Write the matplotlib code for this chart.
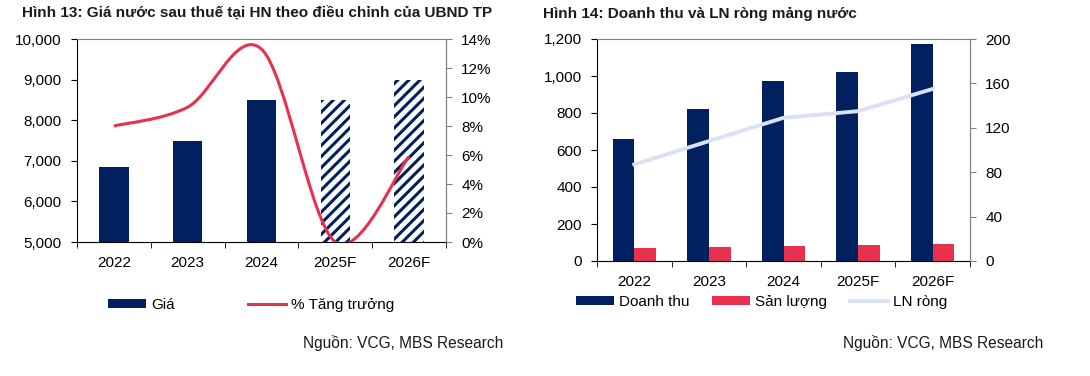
import matplotlib
matplotlib.use("Agg")
import matplotlib.pyplot as plt
from matplotlib.path import Path
from matplotlib.patches import PathPatch, Patch
from matplotlib.lines import Line2D
import numpy as np

plt.rcParams['font.family'] = ['Liberation Sans', 'DejaVu Sans']
plt.rcParams['hatch.linewidth'] = 2.2

# ---------------- data ----------------
years = ["2022", "2023", "2024", "2025F", "2026F"]
gia = [6850, 7500, 8500, 8500, 9000]
gia_forecast = [False, False, False, True, True]
tang_truong = [8.0, 9.3, 13.3, 0.0, 5.9]

doanh_thu = [658, 820, 975, 1023, 1172]
san_luong = [70, 77, 81, 85, 92]
ln_rong = [87, 108, 129, 135, 155]

left_yticks = [5000, 6000, 7000, 8000, 9000, 10000]
left_y2ticks = [0, 2, 4, 6, 8, 10, 12, 14]
right_yticks = [0, 200, 400, 600, 800, 1000, 1200]
right_y2ticks = [0, 40, 80, 120, 160, 200]

NAVY = "#002060"
RED = "#E8304F"
LIGHT = "#D9E1F2"
GREY = "#808080"
FS = 11
TFS = 11

fig = plt.figure(figsize=(10.9, 3.76), dpi=100)
W, H = 1090, 376


def ax_rect(x0, x1, ytop, ybot):
    return [x0 / W, (H - ybot) / H, (x1 - x0) / W, (ybot - ytop) / H]


def style_axes(ax, ax2):
    for s in ["top", "right"]:
        ax.spines[s].set_color(GREY)
    ax.spines["left"].set_color("black")
    ax.spines["bottom"].set_color("black")
    for s in ["top", "left", "bottom"]:
        ax2.spines[s].set_visible(False)
    ax2.spines["right"].set_color(GREY)
    ax.tick_params(axis="y", direction="out", length=4, pad=7, labelsize=FS, colors="black")
    ax.tick_params(axis="x", which="major", length=0, pad=10, labelsize=FS)
    ax.tick_params(axis="x", which="minor", direction="out", length=4)
    ax2.tick_params(axis="y", direction="out", length=4, pad=7, labelsize=FS, colors="black", color=GREY)


def smooth_path(xs, ys):
    # Bezier (Catmull-Rom tangents) through the data points, as Excel smooth lines
    pts = np.column_stack([xs, ys]).astype(float)
    n = len(pts)
    verts = [pts[0]]
    codes = [Path.MOVETO]
    for i in range(n - 1):
        p0 = pts[i - 1] if i > 0 else pts[i]
        p1 = pts[i]
        p2 = pts[i + 1]
        p3 = pts[i + 2] if i + 2 < n else pts[i + 1]
        c1 = p1 + (p2 - p0) / 6.0
        c2 = p2 - (p3 - p1) / 6.0
        verts += [c1, c2, p2]
        codes += [Path.CURVE4] * 3
    return Path(verts, codes)


# ---------------- left chart ----------------
x = np.arange(len(years))
axL = fig.add_axes(ax_rect(77, 446, 39, 242))
axL2 = axL.twinx()
for xi, v, fc in zip(x, gia, gia_forecast):
    if fc:
        axL.bar(xi, v - 5000, bottom=5000, width=0.40, facecolor="white",
                edgecolor=NAVY, hatch="///", linewidth=0, zorder=2)
    else:
        axL.bar(xi, v - 5000, bottom=5000, width=0.40, color=NAVY, linewidth=0, zorder=2)
axL.set_ylim(5000, 10000)
axL.set_yticks(left_yticks)
axL.set_yticklabels([f"{t:,}" for t in left_yticks])
axL.set_xlim(-0.5, len(years) - 0.5)
axL.set_xticks(x)
axL.set_xticklabels(years)
axL.set_xticks(np.arange(-0.5, len(years)), minor=True)

axL2.set_ylim(0, 14)
axL2.set_yticks(left_y2ticks)
axL2.set_yticklabels([f"{t}%" for t in left_y2ticks])
axL2.add_patch(PathPatch(smooth_path(x, tang_truong), facecolor="none",
                         edgecolor=RED, linewidth=2.2, zorder=3))
style_axes(axL, axL2)

handlesL = [Patch(facecolor=NAVY, edgecolor="none"),
            Line2D([0], [0], color=RED, lw=2.2)]
fig.legend(handlesL, ["Giá", "% Tăng trưởng"], loc="center left",
           bbox_to_anchor=(108 / W, (H - 305) / H), ncol=2, frameon=False,
           fontsize=FS, handlelength=2.5, handleheight=0.55, handletextpad=0.3,
           columnspacing=4.8, borderpad=0, borderaxespad=0)

fig.text(22 / W, (H - 14) / H, "Hình 13: Giá nước sau thuế tại HN theo điều chỉnh của UBND TP",
         fontsize=TFS, fontweight="bold", ha="left", va="center", color="#1a1a1a")
fig.text(503 / W, (H - 343) / H, "Nguồn: VCG, MBS Research", fontsize=11.2,
         ha="right", va="center", color="#1a1a1a")

# ---------------- right chart ----------------
axR = fig.add_axes(ax_rect(597, 970, 39, 261))
axR2 = axR.twinx()
bw = 0.29
axR.bar(x - bw / 2, doanh_thu, width=bw, color=NAVY, linewidth=0, zorder=2)
axR.bar(x + bw / 2, san_luong, width=bw, color=RED, linewidth=0, zorder=2)
axR.set_ylim(0, 1200)
axR.set_yticks(right_yticks)
axR.set_yticklabels([f"{t:,}" for t in right_yticks])
axR.set_xlim(-0.5, len(years) - 0.5)
axR.set_xticks(x)
axR.set_xticklabels(years)
axR.set_xticks(np.arange(-0.5, len(years)), minor=True)

axR2.set_ylim(0, 200)
axR2.set_yticks(right_y2ticks)
axR2.plot(x, ln_rong, color=LIGHT, lw=2.8, zorder=3)
style_axes(axR, axR2)

handlesR = [Patch(facecolor=NAVY, edgecolor="none"),
            Patch(facecolor=RED, edgecolor="none"),
            Line2D([0], [0], color=LIGHT, lw=2.8)]
fig.legend(handlesR, ["Doanh thu", "Sản lượng", "LN ròng"], loc="center left",
           bbox_to_anchor=(576 / W, (H - 302) / H), ncol=3, frameon=False,
           fontsize=FS, handlelength=2.5, handleheight=0.55, handletextpad=0.3,
           columnspacing=1.5, borderpad=0, borderaxespad=0)

fig.text(543 / W, (H - 14) / H, "Hình 14: Doanh thu và LN ròng mảng nước",
         fontsize=TFS, fontweight="bold", ha="left", va="center", color="#1a1a1a")
fig.text(1043 / W, (H - 343) / H, "Nguồn: VCG, MBS Research", fontsize=11.2,
         ha="right", va="center", color="#1a1a1a")

fig.savefig("out.png", dpi=100, facecolor="white")
